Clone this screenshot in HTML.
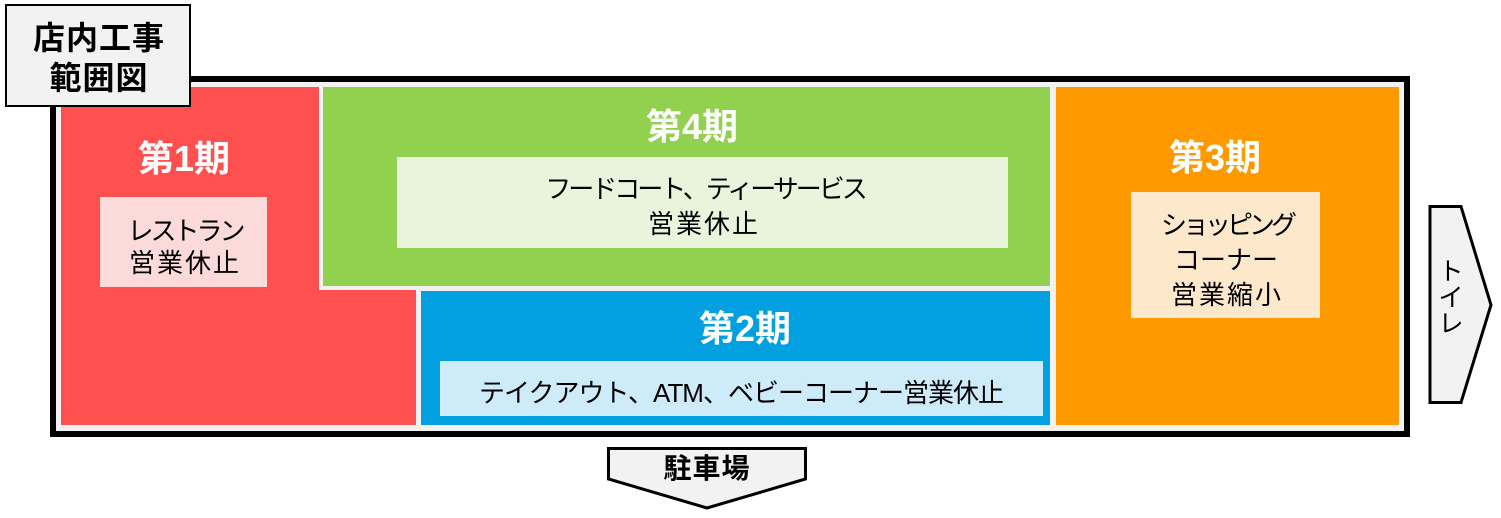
<!DOCTYPE html>
<html>
<head>
<meta charset="utf-8">
<style>
  html,body{margin:0;padding:0;}
  body{width:1501px;height:518px;background:#fff;position:relative;overflow:hidden;
       font-family:"Liberation Sans","Noto Sans CJK JP",sans-serif;color:#000;}
  .a{position:absolute;}
  .t{position:absolute;white-space:nowrap;text-align:center;transform:translateX(-50%);height:30px;line-height:30px;}
  .h{font-weight:700;color:#fff;font-size:36px;height:40px;line-height:40px;}
  .n{font-size:26px;}
</style>
</head>
<body>
  <!-- Frame -->
  <div class="a" style="left:50px;top:76px;width:1360px;height:361px;box-sizing:border-box;border:6px solid #000;background:#f2f2f2;"></div>

  <!-- Red L-shape -->
  <div class="a" style="left:61px;top:87px;width:258px;height:204px;background:#ff5050;"></div>
  <div class="a" style="left:61px;top:290px;width:355px;height:135px;background:#ff5050;"></div>
  <!-- Green -->
  <div class="a" style="left:323px;top:87px;width:727px;height:199px;background:#92d050;"></div>
  <!-- Blue -->
  <div class="a" style="left:421px;top:291px;width:629px;height:134px;background:#02a0e0;"></div>
  <!-- Orange -->
  <div class="a" style="left:1056px;top:87px;width:343px;height:338px;background:#ff9900;"></div>

  <!-- Inner boxes -->
  <div class="a" style="left:100px;top:197px;width:167px;height:90px;background:#fddada;"></div>
  <div class="a" style="left:397px;top:157px;width:611px;height:91px;background:#e8f4dc;"></div>
  <div class="a" style="left:440px;top:361px;width:603px;height:55px;background:#cdebf8;"></div>
  <div class="a" style="left:1131px;top:192px;width:189px;height:126px;background:#fee8cc;"></div>

  <!-- Period titles -->
  <div class="t h" style="left:184px;top:139px;">第1期</div>
  <div class="t h" style="left:692px;top:107px;">第4期</div>
  <div class="t h" style="left:745px;top:309px;">第2期</div>
  <div class="t h" style="left:1215px;top:138px;">第3期</div>

  <!-- Red texts -->
  <div class="t n" style="left:185px;top:216px;letter-spacing:-3px;">レストラン</div>
  <div class="t n" style="left:185px;top:248px;letter-spacing:2px;">営業休止</div>

  <!-- Green texts -->
  <div class="t n" style="left:705px;top:174px;letter-spacing:-3px;">フードコート、ティーサービス</div>
  <div class="t n" style="left:704px;top:209px;letter-spacing:2px;">営業休止</div>

  <!-- Blue text -->
  <div class="t n" style="left:741px;top:378px;letter-spacing:-1px;">テイクアウト、ATM、ベビーコーナー営業休止</div>

  <!-- Orange texts -->
  <div class="t n" style="left:1227px;top:210px;letter-spacing:-4px;">ショッピング</div>
  <div class="t n" style="left:1226px;top:245px;">コーナー</div>
  <div class="t n" style="left:1227px;top:280px;letter-spacing:2px;">営業縮小</div>

  <!-- Title box -->
  <div class="a" style="left:5px;top:4px;width:186px;height:103px;box-sizing:border-box;border:2px solid #000;background:#f2f2f2;"></div>
  <div class="t" style="left:99px;top:18px;height:40px;line-height:40px;font-size:32px;font-weight:700;letter-spacing:1px;">店内工事</div>
  <div class="t" style="left:99px;top:58px;height:40px;line-height:40px;font-size:32px;font-weight:700;letter-spacing:1px;">範囲図</div>

  <!-- Arrows -->
  <svg class="a" style="left:0;top:0;" width="1501" height="518" viewBox="0 0 1501 518">
    <polygon points="608.5,448.5 805.5,448.5 805.5,479 707,508 608.5,479" fill="#f2f2f2" stroke="#000" stroke-width="3" stroke-linejoin="miter"/>
    <polygon points="1430,206.5 1461,206.5 1491,305 1461,402.5 1430,402.5" fill="#f2f2f2" stroke="#000" stroke-width="3" stroke-linejoin="miter"/>
  </svg>

  <!-- Arrow labels -->
  <div class="t" style="left:707px;top:454px;font-size:28px;font-weight:700;letter-spacing:1px;">駐車場</div>
  <div class="a" style="left:1437px;top:259px;width:28px;font-size:25px;line-height:26px;text-align:center;">ト<br>イ<br>レ</div>
</body>
</html>
